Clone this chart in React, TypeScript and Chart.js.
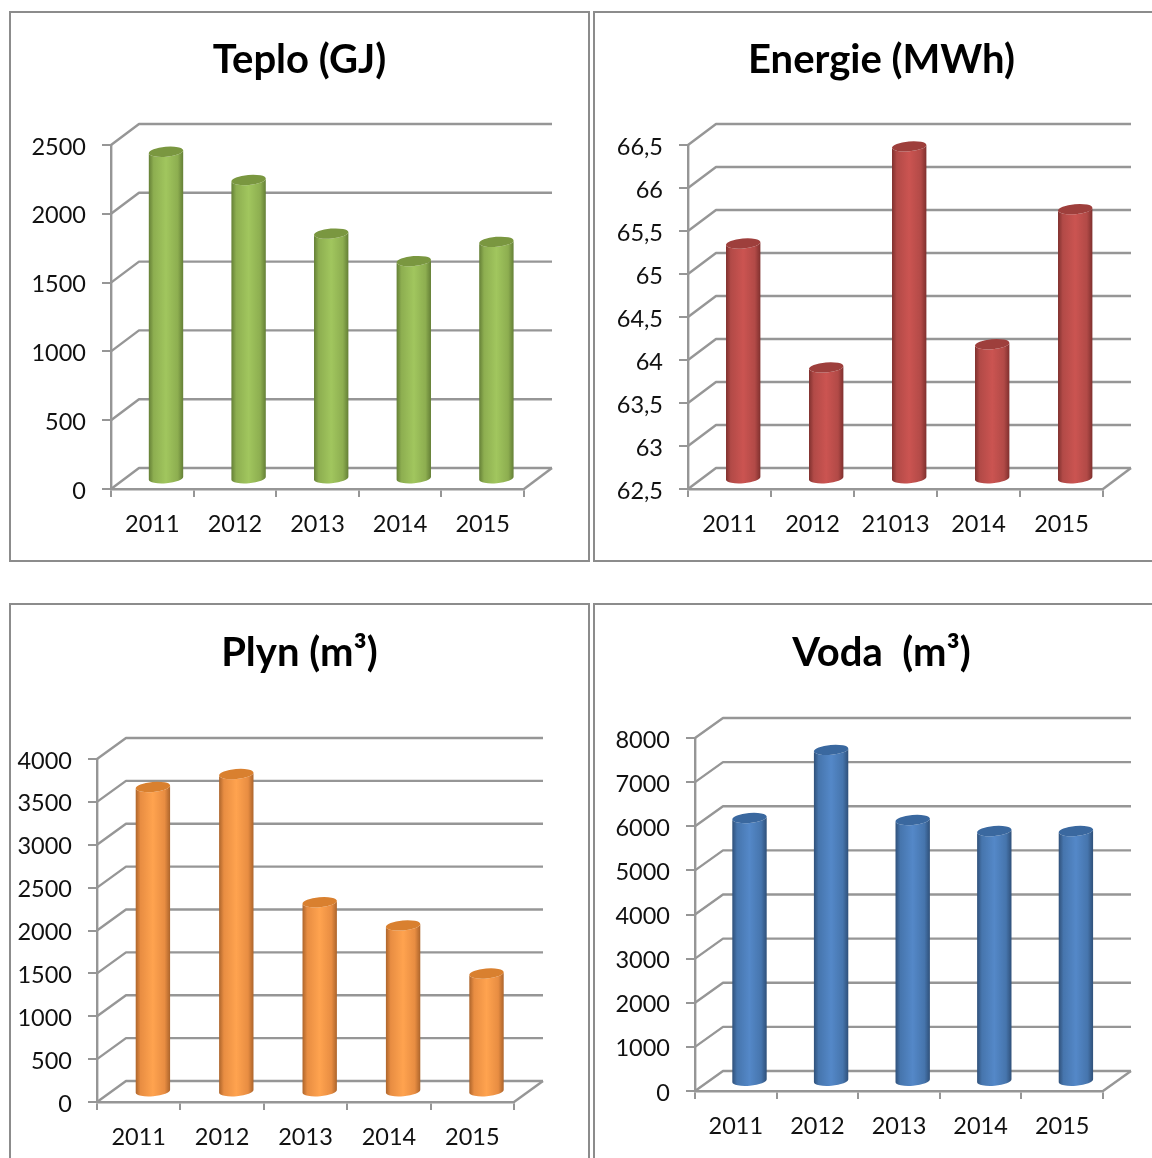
import React, { useEffect, useRef } from "react";
import { Chart, registerables } from "chart.js";

Chart.register(...registerables);

const years = ["2011", "2012", "2013", "2014", "2015"];
const energyYears = ["2011", "2012", "21013", "2014", "2015"];

const heatValues = [2380, 2175, 1785, 1585, 1725];
const energyValues = [65.24, 63.8, 66.37, 64.07, 65.64];
const gasValues = [3560, 3710, 2215, 1945, 1385];
const waterValues = [5975, 7520, 5930, 5680, 5680];

const heatTicks = [0, 500, 1000, 1500, 2000, 2500];
const energyTicks = [62.5, 63, 63.5, 64, 64.5, 65, 65.5, 66, 66.5];
const gasTicks = [0, 500, 1000, 1500, 2000, 2500, 3000, 3500, 4000];
const waterTicks = [0, 1000, 2000, 3000, 4000, 5000, 6000, 7000, 8000];

const FONT = "Lato, Carlito, Calibri, sans-serif";
const LINE = "#969696";

const cylinderPlugin = {
  id: "cylinder3d",
  beforeDatasetsDraw(chart: any) {
    const o = chart.options.plugins.cylinder3d;
    const { ctx, chartArea: a, scales } = chart;
    ctx.save();
    ctx.strokeStyle = LINE;
    ctx.lineWidth = 2.4;
    ctx.lineJoin = "round";
    // side wall + back wall lines for each y tick
    scales.y.ticks.forEach((t: any) => {
      const y = scales.y.getPixelForValue(t.value);
      ctx.beginPath();
      ctx.moveTo(a.left, y);
      ctx.lineTo(a.left + o.dx, y + o.dy);
      ctx.lineTo(a.right + o.dx, y + o.dy);
      ctx.stroke();
    });
    // floor edge on the right
    ctx.beginPath();
    ctx.moveTo(a.right, a.bottom);
    ctx.lineTo(a.right + o.dx, a.bottom + o.dy);
    ctx.stroke();
    ctx.restore();
  },
  afterDatasetsDraw(chart: any) {
    const o = chart.options.plugins.cylinder3d;
    const { ctx } = chart;
    const meta = chart.getDatasetMeta(0);
    const tilt = -0.085;
    const ry = 5;
    meta.data.forEach((bar: any) => {
      const cx = bar.x + o.dx / 2 - 0.3;
      const top = bar.y + o.dy / 2 + 0.7;
      const base = bar.base + o.dy / 2 + 0.7;
      const rx = bar.width / 2;
      const left = cx - rx;
      const right = cx + rx;
      const g = ctx.createLinearGradient(left, 0, right, 0);
      g.addColorStop(0, o.edge);
      g.addColorStop(0.14, o.mid);
      g.addColorStop(0.5, o.light);
      g.addColorStop(0.84, o.mid);
      g.addColorStop(1, o.edge);
      ctx.save();
      ctx.fillStyle = g;
      ctx.beginPath();
      ctx.ellipse(cx, top, rx, ry, tilt, Math.PI, 0, true);
      ctx.ellipse(cx, base, rx, ry, tilt, 0, Math.PI, false);
      ctx.closePath();
      ctx.fill();
      ctx.fillStyle = o.cap;
      ctx.beginPath();
      ctx.ellipse(cx, top, rx, ry, tilt, 0, Math.PI * 2);
      ctx.fill();
      ctx.restore();
    });
  },
};

type PanelProps = {
  title: string;
  labels: string[];
  values: number[];
  ticks: number[];
  box: { left: number; top: number; width: number; height: number };
  area: { left: number; right: number; top: number; bottom: number };
  depth: { dx: number; dy: number };
  colors: { edge: string; mid: string; light: string; cap: string };
  titleCenter: number;
};

function Panel({ title, labels, values, ticks, box, area, depth, colors, titleCenter }: PanelProps) {
  const ref = useRef<HTMLCanvasElement>(null);
  useEffect(() => {
    const topGap = area.top - box.top;
    const titleSize = 40;
    const titleHeight = titleSize * 1.2;
    const padTop = titleCenter - box.top - titleHeight / 2;
    const chart = new Chart(ref.current as HTMLCanvasElement, {
      type: "bar",
      data: {
        labels,
        datasets: [
          {
            data: values,
            base: ticks[0],
            backgroundColor: "rgba(0,0,0,0)",
            borderWidth: 0,
            barPercentage: 34.5 / ((area.right - area.left) / labels.length),
            categoryPercentage: 1,
          },
        ],
      },
      options: {
        responsive: false,
        animation: false,
        devicePixelRatio: 1,
        layout: { autoPadding: false, padding: 0 },
        plugins: {
          legend: { display: false },
          tooltip: { enabled: false },
          title: {
            display: true,
            text: title,
            color: "#000000",
            font: { family: FONT, size: titleSize, weight: "bold", lineHeight: 1.2 },
            padding: { top: padTop, bottom: topGap - padTop - titleHeight },
          },
          cylinder3d: { ...depth, ...colors },
        } as any,
        scales: {
          x: {
            offset: true,
            afterFit(s: any) {
              s.height = box.top + box.height - area.bottom;
            },
            border: { display: true, color: LINE, width: 2.4 },
            grid: {
              display: true,
              offset: true,
              drawOnChartArea: false,
              drawTicks: true,
              tickLength: 8,
              color: LINE,
              lineWidth: 2,
            },
            ticks: {
              color: "#111111",
              font: { family: FONT, size: 23.5 },
              padding: 13,
              maxRotation: 0,
              minRotation: 0,
              autoSkip: false,
            },
          },
          y: {
            min: ticks[0],
            max: ticks[ticks.length - 1],
            afterBuildTicks(s: any) {
              s.ticks = ticks.map((value) => ({ value }));
            },
            afterFit(s: any) {
              s.width = area.left - box.left;
            },
            afterUpdate(s: any) {
              // nudge the labels down so the digits sit level with their tick marks
              if (s.__nudged) return;
              s.__nudged = true;
              const compute = s._computeLabelItems.bind(s);
              s._computeLabelItems = (a: any) =>
                compute(a).map((it: any) => ({
                  ...it,
                  options: {
                    ...it.options,
                    translation: [it.options.translation[0] - 1, it.options.translation[1] + 2],
                  },
                }));
            },
            border: { display: true, color: LINE, width: 2.4 },
            grid: {
              display: true,
              drawOnChartArea: false,
              drawTicks: true,
              tickLength: 9,
              color: LINE,
              lineWidth: 2,
            },
            ticks: {
              color: "#111111",
              font: { family: FONT, size: 23.5 },
              padding: 15,
              autoSkip: false,
              callback: (v: any) => String(v).replace(".", ","),
            },
          },
          // empty right-hand scale: reserves the depth of the back wall, keeps the title centred on the panel
          depthGap: {
            type: "linear",
            position: "right",
            afterFit(s: any) {
              s.width = box.left + box.width - area.right;
            },
            border: { display: false },
            grid: { display: false },
            ticks: { display: false },
          },
        },
      } as any,
      plugins: [cylinderPlugin as any],
    });
    return () => chart.destroy();
  }, []);
  return (
    <div
      style={{
        position: "absolute",
        left: box.left - 2,
        top: box.top - 2,
        width: box.width,
        height: box.height,
        border: "2px solid #8c8c8c",
        background: "#fff",
      }}
    >
      <canvas ref={ref} width={box.width} height={box.height} style={{ display: "block" }} />
    </div>
  );
}

const green = { edge: "#647f36", mid: "#8dae50", light: "#a1c65e", cap: "#7a9740" };
const red = { edge: "#7f302e", mid: "#b24a47", light: "#cb5451", cap: "#9e3f3c" };
const orange = { edge: "#ac642b", mid: "#e88d42", light: "#ffa34f", cap: "#d9802f" };
const blue = { edge: "#2f5079", mid: "#4675ad", light: "#5488c8", cap: "#3a689f" };

export default function App() {
  return (
    <div style={{ position: "fixed", left: 0, top: 0, width: 1152, height: 1158, overflow: "hidden", background: "#fff" }}>
      <Panel
        title="Teplo (GJ)"
        labels={years}
        values={heatValues}
        ticks={heatTicks}
        box={{ left: 11, top: 13, width: 577, height: 547 }}
        area={{ left: 111, right: 524, top: 145, bottom: 489 }}
        depth={{ dx: 28, dy: -21 }}
        colors={green}
        titleCenter={60}
      />
      <Panel
        title="Energie (MWh)"
        labels={energyYears}
        values={energyValues}
        ticks={energyTicks}
        box={{ left: 595, top: 13, width: 573, height: 547 }}
        area={{ left: 688, right: 1103, top: 145, bottom: 489 }}
        depth={{ dx: 28, dy: -21 }}
        colors={red}
        titleCenter={60}
      />
      <Panel
        title="Plyn (m³)"
        labels={years}
        values={gasValues}
        ticks={gasTicks}
        box={{ left: 11, top: 605, width: 577, height: 580 }}
        area={{ left: 97, right: 514, top: 759, bottom: 1102 }}
        depth={{ dx: 29, dy: -21 }}
        colors={orange}
        titleCenter={653}
      />
      <Panel
        title="Voda  (m³)"
        labels={years}
        values={waterValues}
        ticks={waterTicks}
        box={{ left: 595, top: 605, width: 573, height: 580 }}
        area={{ left: 695, right: 1103, top: 738, bottom: 1091 }}
        depth={{ dx: 28, dy: -20 }}
        colors={blue}
        titleCenter={653}
      />
    </div>
  );
}
